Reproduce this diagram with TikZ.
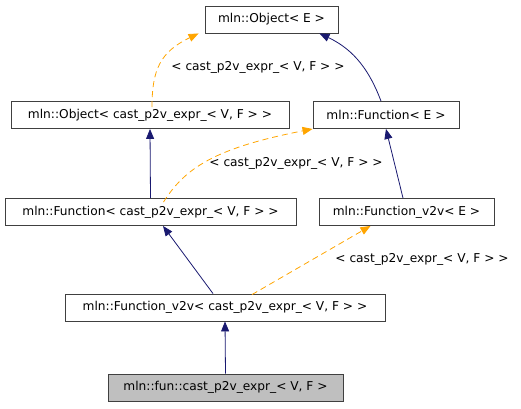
\documentclass[tikz,border=0pt]{standalone}
\usepackage{fontspec}
\setmainfont{DejaVu Sans}
\usetikzlibrary{arrows.meta}
\definecolor{navy}{HTML}{191970}
\definecolor{dorange}{HTML}{FFA500}
\definecolor{bord}{HTML}{404040}
\begin{document}
\begin{tikzpicture}[x=1pt,y=-1pt,
  cls/.style={draw=bord,line width=0.9pt,fill=white,minimum height=27pt,inner sep=0pt,font=\fontsize{12.2}{14}\selectfont},
  inh/.style={draw=navy,line width=0.8pt,-{Triangle[length=10pt,width=8pt]}},
  tpl/.style={draw=dorange,line width=0.8pt,dash pattern=on 6pt off 4pt,-{Triangle[length=10pt,width=8pt,fill=dorange]}},
  lbl/.style={font=\fontsize{12.2}{14}\selectfont,inner sep=0pt}]
\useasboundingbox (0,0) rectangle (521,408);
\node[cls,minimum width=133pt] (oe) at (271.5,19.5) {mln::Object< E >};
\node[cls,minimum width=278pt] (oc) at (150,115) {mln::Object< cast\_p2v\_expr\_< V, F > >};
\node[cls,minimum width=146pt] (fe) at (386,115) {mln::Function< E >};
\node[cls,minimum width=291pt] (fc) at (150.5,212) {mln::Function< cast\_p2v\_expr\_< V, F > >};
\node[cls,minimum width=175pt] (fve) at (406.5,212) {mln::Function\_v2v< E >};
\node[cls,minimum width=320pt] (fvc) at (225,307.5) {mln::Function\_v2v< cast\_p2v\_expr\_< V, F > >};
\node[cls,minimum width=235pt,fill={rgb,255:red,191;green,191;blue,191}] (bot) at (225.5,387.5) {mln::fun::cast\_p2v\_expr\_< V, F >};
% edges
\draw[inh] (bot.north) -- (fvc.south);
\draw[inh] ([xshift=-12pt]fvc.north) -- ([xshift=12.5pt]fc.south);
\draw[tpl] ([xshift=27pt,yshift=-1pt]fvc.north) -- ([xshift=-36pt]fve.south);
\draw[inh] ([xshift=-3.5pt]fve.north) -- ([xshift=0pt]fe.south);
\draw[tpl] ([xshift=13pt,yshift=-4pt]fc.north) .. controls (185,168) and (215,148) .. (fe.south west);
\draw[inh] (fc.north) -- (oc.south);
\draw[tpl] ([xshift=2pt,yshift=-6pt]oc.north) .. controls (152,70) and (160,52) .. ([xshift=-6pt]oe.south west);
\draw[inh] ([xshift=-5pt]fe.north) .. controls (370,72) and (355,50) .. ([xshift=-19pt]oe.south east);
% labels
\node[lbl] (l1) at (258,67) {< cast\_p2v\_expr\_< V, F > >};
\node[lbl] (l2) at (296,163) {< cast\_p2v\_expr\_< V, F > >};
\node[lbl] (l3) at (422,259) {< cast\_p2v\_expr\_< V, F > >};
\end{tikzpicture}
\end{document}
